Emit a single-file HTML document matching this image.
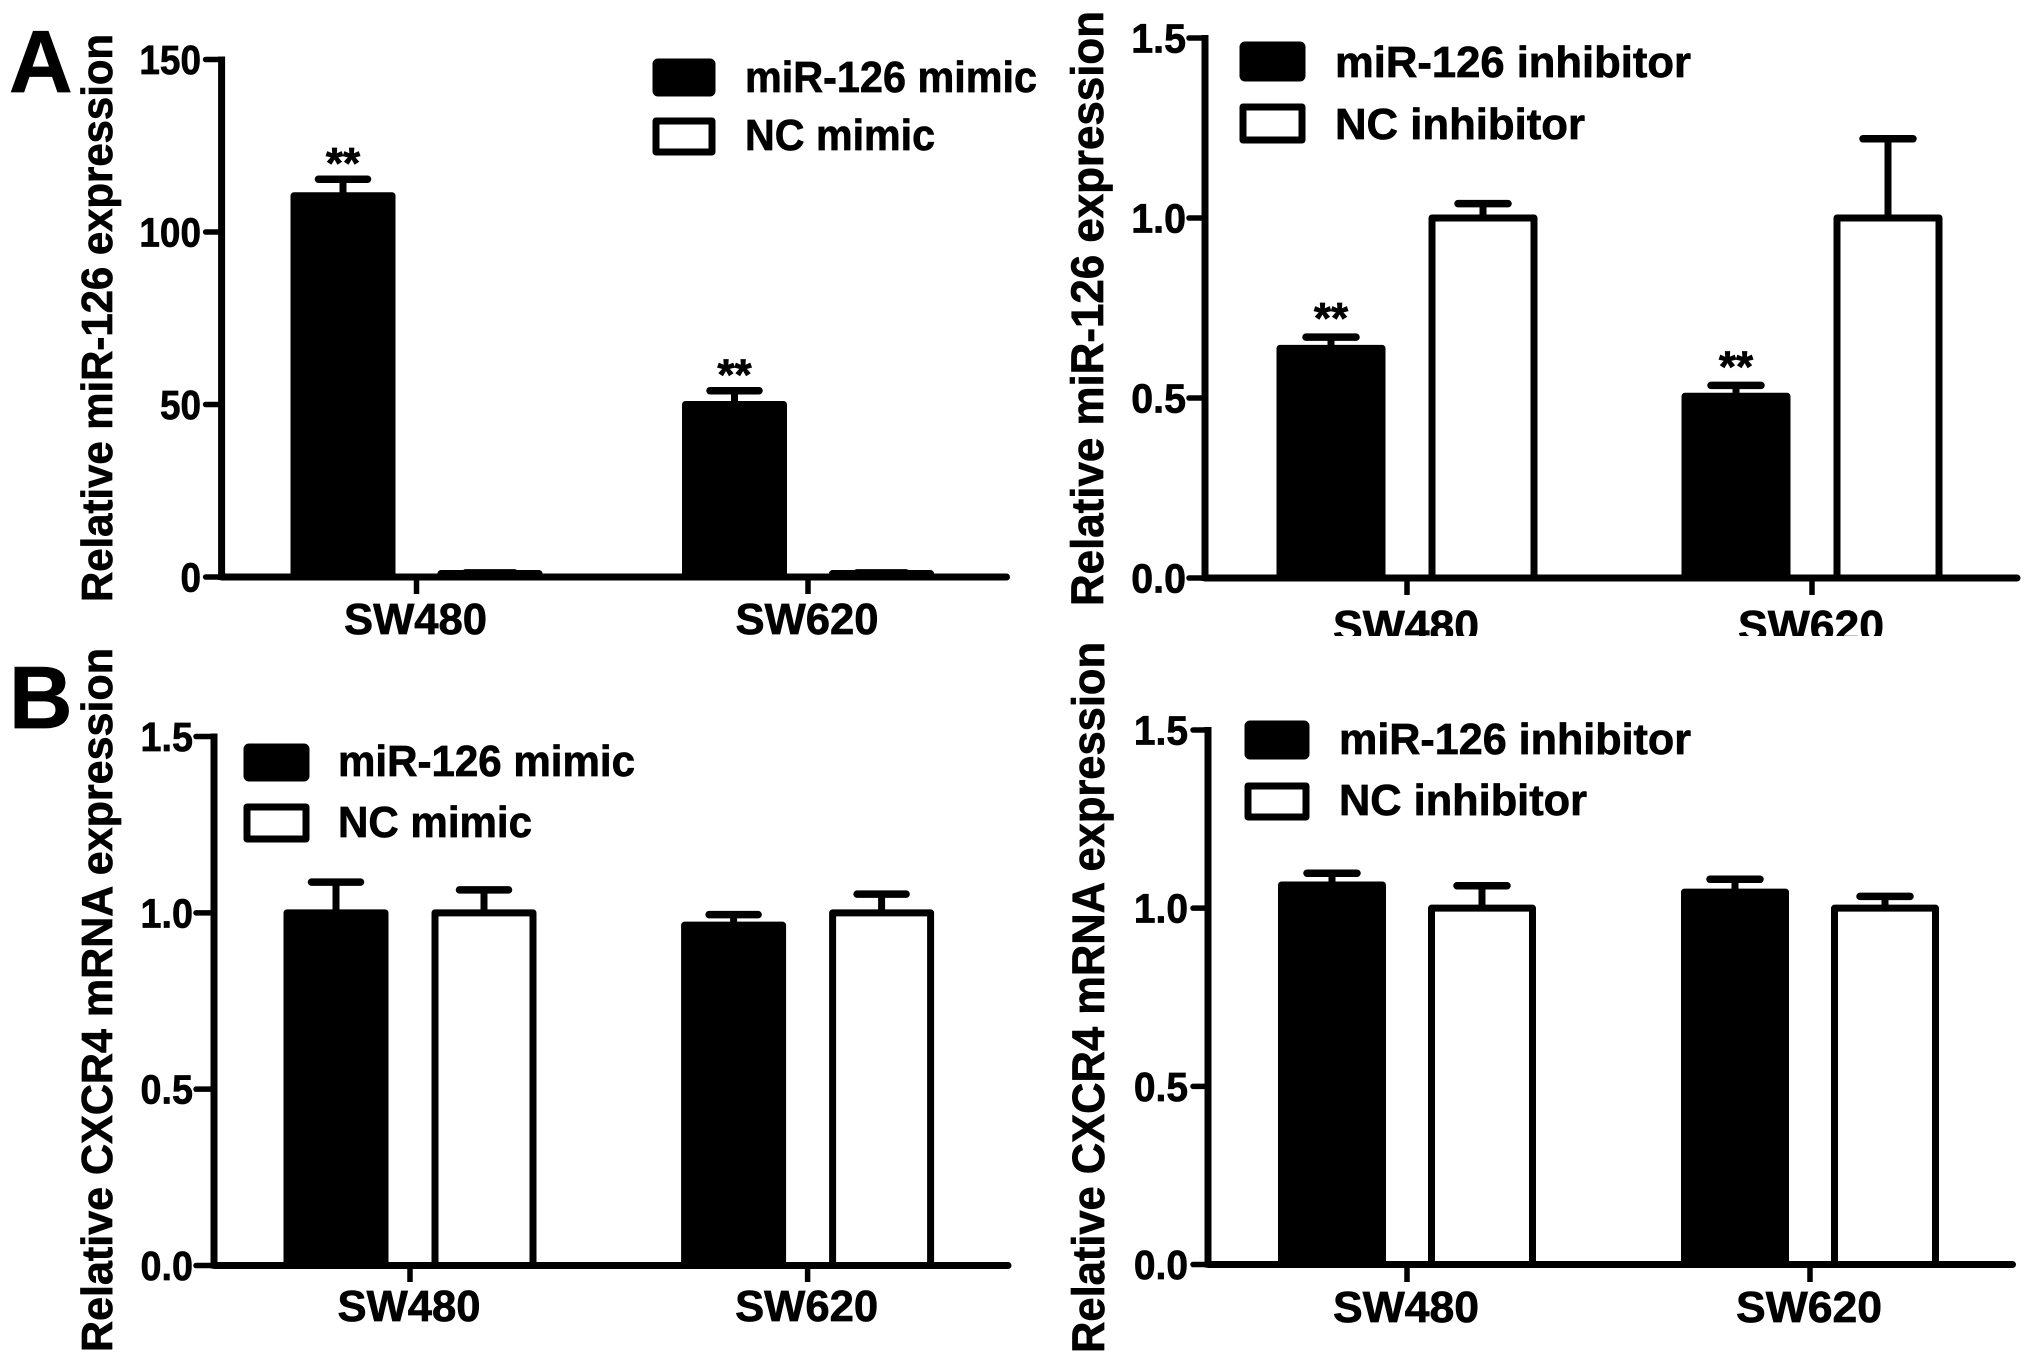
<!DOCTYPE html>
<html lang="en">
<head>
<meta charset="utf-8">
<title>miR-126 and CXCR4 expression</title>
<style>
html,body{margin:0;padding:0;background:#fff;}
svg{display:block;}
text{font-family:"Liberation Sans",Arial,sans-serif;font-weight:bold;fill:#000;stroke:#000;stroke-width:0.7px;}
</style>
</head>
<body>
<svg id="figure" xmlns="http://www.w3.org/2000/svg" width="2031" height="1364" viewBox="0 0 2031 1364">
  <defs>
    <clipPath id="top-right-clip"><rect x="1040" y="0" width="991" height="636"/></clipPath>
  </defs>
  <rect width="2031" height="1364" fill="#fff"/>
  <text x="9" y="92" font-size="88">A</text>
  <text x="9" y="728" font-size="88">B</text>

  <g id="aLeft">
    <text transform="translate(112,602) rotate(-90)" font-size="44" textLength="568" lengthAdjust="spacingAndGlyphs">Relative miR-126 expression</text>
    <rect x="656" y="62" width="56" height="31" rx="2" fill="#000" stroke="#000" stroke-width="7" stroke-linejoin="round"/>
    <text x="745" y="92" font-size="44" textLength="292" lengthAdjust="spacingAndGlyphs">miR-126 mimic</text>
    <rect x="656" y="121" width="56" height="31" fill="#fff" stroke="#000" stroke-width="7" stroke-linejoin="round"/>
    <text x="745" y="150" font-size="44" textLength="190" lengthAdjust="spacingAndGlyphs">NC mimic</text>
  </g>

  <g id="aRight" clip-path="url(#top-right-clip)">
    <text transform="translate(1103,606) rotate(-90)" font-size="45" textLength="595" lengthAdjust="spacingAndGlyphs">Relative miR-126 expression</text>
    <rect x="1243" y="45" width="59" height="33" rx="2" fill="#000" stroke="#000" stroke-width="7" stroke-linejoin="round"/>
    <text x="1335" y="77" font-size="44" textLength="356" lengthAdjust="spacingAndGlyphs">miR-126 inhibitor</text>
    <rect x="1243" y="107" width="59" height="33" fill="#fff" stroke="#000" stroke-width="7" stroke-linejoin="round"/>
    <text x="1335" y="139" font-size="44" textLength="250" lengthAdjust="spacingAndGlyphs">NC inhibitor</text>
  </g>

  <g id="bLeft">
    <text transform="translate(112,1352) rotate(-90)" font-size="44" textLength="704" lengthAdjust="spacingAndGlyphs">Relative CXCR4 mRNA expression</text>
    <rect x="247" y="747" width="59" height="31" rx="2" fill="#000" stroke="#000" stroke-width="7" stroke-linejoin="round"/>
    <text x="338" y="776" font-size="44" textLength="297" lengthAdjust="spacingAndGlyphs">miR-126 mimic</text>
    <rect x="247" y="807" width="59" height="32" fill="#fff" stroke="#000" stroke-width="7" stroke-linejoin="round"/>
    <text x="338" y="837" font-size="44" textLength="194" lengthAdjust="spacingAndGlyphs">NC mimic</text>
  </g>

  <g id="bRight">
    <text transform="translate(1104,1353) rotate(-90)" font-size="45" textLength="711" lengthAdjust="spacingAndGlyphs">Relative CXCR4 mRNA expression</text>
    <rect x="1248" y="724" width="58" height="32" rx="2" fill="#000" stroke="#000" stroke-width="7" stroke-linejoin="round"/>
    <text x="1339" y="754" font-size="44" textLength="352" lengthAdjust="spacingAndGlyphs">miR-126 inhibitor</text>
    <rect x="1248" y="786" width="58" height="31" fill="#fff" stroke="#000" stroke-width="7" stroke-linejoin="round"/>
    <text x="1339" y="815" font-size="44" textLength="248" lengthAdjust="spacingAndGlyphs">NC inhibitor</text>
  </g>
</svg>
<script>
// ---- Data ----
const categories = ["SW480", "SW620"];

const aLeftTickLabels = ["0", "50", "100", "150"];
const aLeftTreatedValues = [110.5, 50];
const aLeftTreatedErrors = [4.8, 4];
const aLeftControlValues = [1, 1];
const aLeftControlErrors = [0.2, 0.2];
const aLeftStars = ["**", "**"];

const aRightTickLabels = ["0.0", "0.5", "1.0", "1.5"];
const aRightTreatedValues = [0.638, 0.505];
const aRightTreatedErrors = [0.031, 0.03];
const aRightControlValues = [1, 1];
const aRightControlErrors = [0.04, 0.22];
const aRightStars = ["**", "**"];

const bLeftTickLabels = ["0.0", "0.5", "1.0", "1.5"];
const bLeftTreatedValues = [1, 0.965];
const bLeftTreatedErrors = [0.087, 0.03];
const bLeftControlValues = [1, 1];
const bLeftControlErrors = [0.065, 0.053];
const bLeftStars = ["", ""];

const bRightTickLabels = ["0.0", "0.5", "1.0", "1.5"];
const bRightTreatedValues = [1.065, 1.045];
const bRightTreatedErrors = [0.033, 0.036];
const bRightControlValues = [1, 1];
const bRightControlErrors = [0.063, 0.033];
const bRightStars = ["", ""];

// ---- Panel geometry (plot frames only) ----
const panels = [
  {id:"aLeft", ticks:aLeftTickLabels, treated:aLeftTreatedValues, treatedErr:aLeftTreatedErrors, control:aLeftControlValues, controlErr:aLeftControlErrors, stars:aLeftStars,
   axisX:221.6, y0:577, yTop:59.5, tickLeft:205.6, xEnd:1006.5, catX0:416.5, catX1:808, offset:73.5, barW:98, capW:49, tickBottom:594, catBaseline:634, catW:143, tickSqueeze:0.9, tickRight:201, starGap:3},
  {id:"aRight", ticks:aRightTickLabels, treated:aRightTreatedValues, treatedErr:aRightTreatedErrors, control:aRightControlValues, controlErr:aRightControlErrors, stars:aRightStars,
   axisX:1205, y0:578, yTop:38, tickLeft:1189, xEnd:2017, catX0:1407, catX1:1812, offset:76, barW:102, capW:50, tickBottom:595, catBaseline:641, catW:146, tickSqueeze:0.96, tickRight:1186, starGap:6},
  {id:"bLeft", ticks:bLeftTickLabels, treated:bLeftTreatedValues, treatedErr:bLeftTreatedErrors, control:bLeftControlValues, controlErr:bLeftControlErrors, stars:bLeftStars,
   axisX:214, y0:1265.5, yTop:736.5, tickLeft:196, xEnd:1008, catX0:410, catX1:807.6, offset:74, barW:98, capW:49, tickBottom:1282, catBaseline:1321, catW:143, tickSqueeze:0.92, tickRight:193, starGap:3},
  {id:"bRight", ticks:bRightTickLabels, treated:bRightTreatedValues, treatedErr:bRightTreatedErrors, control:bRightControlValues, controlErr:bRightControlErrors, stars:bRightStars,
   axisX:1208, y0:1264.5, yTop:730, tickLeft:1193, xEnd:2012.5, catX0:1407, catX1:1810, offset:75, barW:101, capW:50, tickBottom:1282, catBaseline:1322, catW:146, tickSqueeze:0.95, tickRight:1188, starGap:3}
];

const SVG_NS = "http://www.w3.org/2000/svg";

function make(parent, tag, attrs) {
  const el = document.createElementNS(SVG_NS, tag);
  for (const k in attrs) el.setAttribute(k, attrs[k]);
  parent.appendChild(el);
  return el;
}

function yScale(p) {
  const max = Math.max.apply(null, p.ticks.map(parseFloat));
  return function (v) { return p.y0 - (v / max) * (p.y0 - p.yTop); };
}

function xScale(p) {
  return function (catIndex) {
    const n = categories.length - 1;
    return p.catX0 + (p.catX1 - p.catX0) * (n ? catIndex / n : 0);
  };
}

function drawBar(g, p, y, cx, value, err, filled, label) {
  const top = y(value);
  const capY = y(value + err);
  const stem = make(g, "line", {x1:cx, x2:cx, y1:top, y2:capY, stroke:"#000", "stroke-width":7});
  
  
  const cap = make(g, "line", {x1:cx - p.capW / 2, x2:cx + p.capW / 2, y1:capY, y2:capY, stroke:"#000", "stroke-width":7.5, "stroke-linecap":"round"});
  
  
  const bar = make(g, "rect", {x:cx - p.barW / 2, y:top, width:p.barW, height:Math.max(0, p.y0 - top), fill:filled ? "#000" : "#fff", stroke:"#000", "stroke-width":7, "stroke-linejoin":"round"});
  
  
  return capY;
}

function drawPanel(p) {
  const g = document.getElementById(p.id);
  const y = yScale(p);
  const x = xScale(p);

  categories.forEach(function (cat, i) {
    const c = x(i);
    const key = cat.toLowerCase();
    const capY = drawBar(g, p, y, c - p.offset, p.treated[i], p.treatedErr[i], true, key + '-treated');
    drawBar(g, p, y, c + p.offset, p.control[i], p.controlErr[i], false, key + '-control');
    if (p.stars[i]) {
      const star = make(g, "text", {x:c - p.offset, y:capY + 2 - p.starGap, "font-size":44, "text-anchor":"middle"});
      star.textContent = p.stars[i];
      
      
    }
  });

  const yAxis = make(g, "line", {x1:p.axisX, x2:p.axisX, y1:p.yTop - 3, y2:p.y0 + 3, stroke:"#000", "stroke-width":7});
  
  
  const xAxis = make(g, "line", {x1:p.axisX, x2:p.xEnd, y1:p.y0, y2:p.y0, stroke:"#000", "stroke-width":7, "stroke-linecap":"round"});
  
  

  p.ticks.forEach(function (t) {
    const ty = y(parseFloat(t));
    const tick = make(g, "line", {x1:p.tickLeft, x2:p.axisX, y1:ty, y2:ty, stroke:"#000", "stroke-width":5.5, "stroke-linecap":"round"});
    
    
    const lab = make(g, "text", {x:p.tickRight, y:ty + 14.5, "font-size":41, "text-anchor":"end", lengthAdjust:"spacingAndGlyphs"});
    lab.textContent = t;
    
    
    lab.setAttribute("textLength", lab.getComputedTextLength() * p.tickSqueeze);
  });

  categories.forEach(function (cat, i) {
    const c = x(i);
    const key = cat.toLowerCase();
    const tick = make(g, "line", {x1:c, x2:c, y1:p.y0, y2:p.tickBottom, stroke:"#000", "stroke-width":5.5});
    
    
    const lab = make(g, "text", {x:c - 1, y:p.catBaseline, "font-size":44, "text-anchor":"middle", textLength:p.catW, lengthAdjust:"spacingAndGlyphs"});
    lab.textContent = cat;
    
    
  });
}

panels.forEach(drawPanel);
</script>
</body>
</html>
